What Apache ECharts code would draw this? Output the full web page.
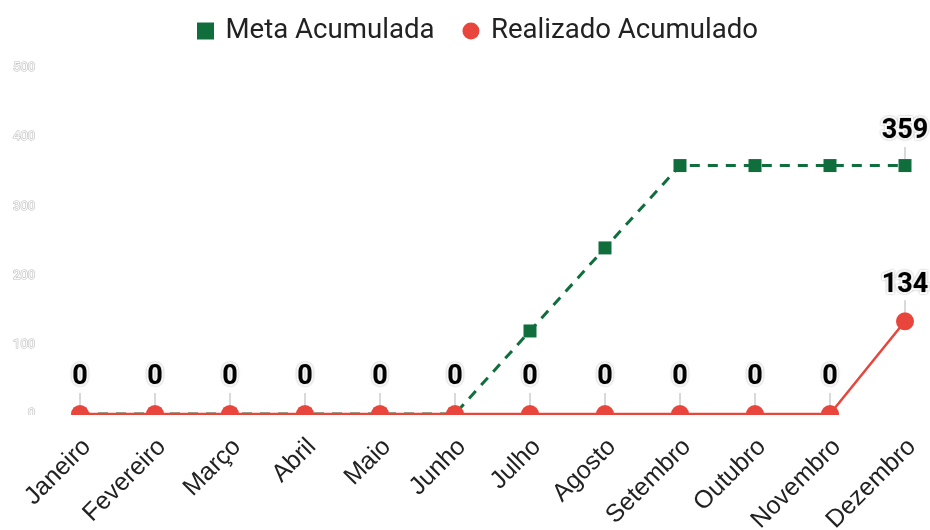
<!DOCTYPE html>
<html>
<head>
<meta charset="utf-8">
<script src="https://cdn.jsdelivr.net/npm/echarts@6/dist/echarts.min.js"></script>
<style>html,body{margin:0;padding:0;background:#fff;}#c{width:930px;height:530px;}</style>
</head>
<body>
<div id="c"></div>
<script>
const categories = ['Janeiro','Fevereiro','Março','Abril','Maio','Junho','Julho','Agosto','Setembro','Outubro','Novembro','Dezembro'];
const metaAcumulada = [0,0,0,0,0,0,120,240,359,359,359,359];
const realizadoAcumulado = [0,0,0,0,0,0,0,0,0,0,0,134];
const yTicks = {min: 0, max: 500, interval: 100};

const GREEN = '#0f6e3c';
const RED = '#e8453c';

const labelStyle = {
  show: true,
  position: 'top',
  distance: 4,
  fontFamily: 'Roboto',
  fontWeight: 'bold',
  fontSize: 27,
  color: '#000',
  textBorderColor: '#fff',
  textBorderWidth: 4,
  textShadowColor: 'rgba(0,0,0,0.35)',
  textShadowBlur: 2
};

const chart = echarts.init(document.getElementById('c'));
chart.setOption({
  animation: false,
  legend: {
    top: 12,
    left: 192,
    itemGap: 28,
    itemWidth: 30,
    itemHeight: 17,
    textStyle: {fontFamily: 'Roboto', fontSize: 27.6, color: '#222'},
    data: [{name: 'Meta Acumulada', icon: 'path://M0,0h10v10h-10z'}, {name: 'Realizado Acumulado', icon: 'circle'}]
  },
  grid: {left: 80, right: 25, top: 68, bottom: 116, outerBoundsMode: 'none', containLabel: false},
  xAxis: {
    type: 'category',
    data: categories,
    boundaryGap: false,
    axisLine: {show: false},
    axisTick: {show: false},
    axisLabel: {rotate: 45, fontFamily: 'Liberation Sans', fontSize: 25, color: '#222', margin: 36, padding: [0, -10, 0, 0]}
  },
  yAxis: {
    type: 'value',
    min: yTicks.min, max: yTicks.max, interval: yTicks.interval,
    splitLine: {show: false},
    axisLine: {show: false},
    axisTick: {show: false},
    axisLabel: {margin: 45, fontFamily: 'Roboto', fontSize: 13, color: '#fff', textBorderColor: '#bbb', textBorderWidth: 1.2}
  },
  graphic: [{
    type: 'rect', zlevel: 1, z: 100,
    shape: {x: 0, y: 415, width: 930, height: 12},
    style: {fill: '#fff'}
  }],
  series: [
    {
      name: 'Meta Acumulada',
      type: 'line',
      z: 2,
      data: metaAcumulada.map((v, i) => i === metaAcumulada.length - 1
        ? {value: v, label: labelStyle}
        : v),
      symbol: 'rect',
      symbolSize: 13,
      itemStyle: {color: GREEN},
      lineStyle: {color: GREEN, width: 3, type: [10, 8]},
      label: {show: false},
      labelLayout: {dy: -10},
      labelLine: {show: true, lineStyle: {color: '#ccc', width: 1.5}}
    },
    {
      name: 'Realizado Acumulado',
      type: 'line',
      z: 3,
      data: realizadoAcumulado,
      symbol: 'circle',
      symbolSize: 18,
      itemStyle: {color: RED},
      lineStyle: {color: RED, width: 2.5},
      label: labelStyle,
      labelLayout: {dy: -10},
      labelLine: {show: true, lineStyle: {color: '#ccc', width: 1.5}}
    }
  ]
});
</script>
</body>
</html>
